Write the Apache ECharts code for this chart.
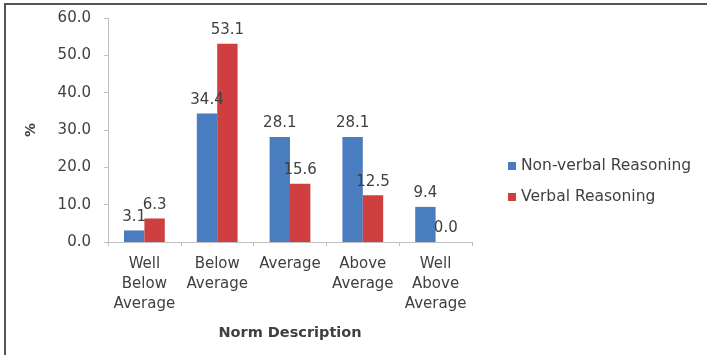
<!DOCTYPE html>
<html>
<head>
<meta charset="utf-8">
<script src="https://cdn.jsdelivr.net/npm/echarts@6/dist/echarts.min.js"></script>
<style>
  html, body { margin: 0; padding: 0; background: #ffffff; }
  #chart { width: 707px; height: 355px; }
</style>
</head>
<body>
<div id="chart"></div>
<script>
// Norm description categories (multi-line labels)
const categories = ['Well\nBelow\nAverage', 'Below\nAverage', 'Average', 'Above\nAverage', 'Well\nAbove\nAverage'];
// Percentage of pupils in each band
const nonVerbal = [3.1, 34.4, 28.1, 28.1, 9.4];
const verbal = [6.3, 53.1, 15.6, 12.5, 0.0];
const seriesNames = ['Non-verbal Reasoning', 'Verbal Reasoning'];

const FONT = '"DejaVu Sans", "Liberation Sans", sans-serif';
const TEXT = '#404040';

const chart = echarts.init(document.getElementById('chart'), null, { renderer: 'canvas' });

const labelStyle = {
  show: true,
  position: 'top',
  distance: 6,
  fontFamily: FONT,
  fontSize: 15,
  color: TEXT,
  formatter: p => p.value.toFixed(1)
};

chart.setOption({
  animation: false,
  backgroundColor: '#ffffff',
  grid: { left: 108, right: 235, top: 18, bottom: 113, containLabel: false },
  legend: {
    orient: 'vertical',
    left: 503,
    top: 153,
    itemWidth: 8,
    itemHeight: 8,
    itemGap: 15,
    icon: 'rect',
    textStyle: { fontFamily: FONT, fontSize: 15.5, color: TEXT },
    data: seriesNames
  },
  xAxis: {
    type: 'category',
    data: categories,
    name: 'Norm Description',
    nameLocation: 'middle',
    nameGap: 84,
    nameTextStyle: { fontFamily: FONT, fontSize: 14.5, fontWeight: 'bold', color: TEXT },
    axisLine: { lineStyle: { color: '#bfbfbf', width: 1 } },
    axisTick: { show: true, length: 4, lineStyle: { color: '#bfbfbf' } },
    axisLabel: {
      fontFamily: FONT, fontSize: 15, color: TEXT,
      lineHeight: 20, margin: 12, interval: 0
    }
  },
  yAxis: {
    type: 'value',
    min: 0,
    max: 60,
    interval: 10,
    name: '%',
    nameLocation: 'middle',
    nameGap: 70,
    nameRotate: 90,
    nameTextStyle: { fontFamily: FONT, fontSize: 14, fontWeight: 'bold', color: TEXT },
    axisLine: { show: true, lineStyle: { color: '#bfbfbf', width: 1 } },
    axisTick: { show: true, length: 4, lineStyle: { color: '#bfbfbf' } },
    splitLine: { show: false },
    axisLabel: {
      fontFamily: FONT, fontSize: 15, color: TEXT, margin: 17,
      formatter: v => v.toFixed(1)
    }
  },
  series: [
    {
      name: seriesNames[0],
      type: 'bar',
      data: nonVerbal,
      barGap: '0%',
      barCategoryGap: '44%',
      itemStyle: { color: '#4a7cc0' },
      label: labelStyle
    },
    {
      name: seriesNames[1],
      type: 'bar',
      data: verbal,
      itemStyle: { color: '#cf3f3f' },
      label: labelStyle
    }
  ],
  graphic: [
    { type: 'line', shape: { x1: 4, y1: 4, x2: 707, y2: 4 }, style: { stroke: '#555555', lineWidth: 2 } },
    { type: 'line', shape: { x1: 5, y1: 4, x2: 5, y2: 355 }, style: { stroke: '#555555', lineWidth: 2 } }
  ]
});
</script>
</body>
</html>
